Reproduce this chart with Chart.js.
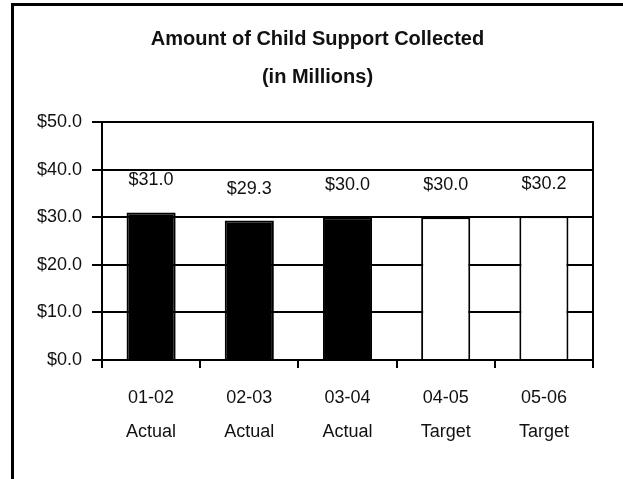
<!DOCTYPE html>
<html>
<head>
<meta charset="utf-8">
<title>Amount of Child Support Collected</title>
<script src="https://cdn.jsdelivr.net/npm/chart.js@4/dist/chart.umd.min.js"></script>
<style>
  html, body { margin: 0; padding: 0; background: #fff; }
  #wrap { width: 623px; height: 479px; }
</style>
</head>
<body>
<div id="wrap"><canvas id="c" width="623" height="479"></canvas></div>
<script>
// Fiscal years and whether the figure is an actual or a target
const periods = ['01-02', '02-03', '03-04', '04-05', '05-06'];
const kinds = ['Actual', 'Actual', 'Actual', 'Target', 'Target'];
// Collections in millions of dollars
const collected = [31.0, 29.3, 30.0, 30.0, 30.2];
const yTicks = [0, 10, 20, 30, 40, 50];

const FONT = "'Liberation Sans', Arial, sans-serif";
const money = v => '$' + Number(v).toFixed(1);

// Actual years are solid, targets are hollow
const fills = kinds.map(k => (k === 'Actual' ? '#000000' : '#ffffff'));

const frame = {
  id: 'frame',
  beforeDraw(chart) {
    const { ctx, width, height } = chart;
    ctx.save();
    ctx.fillStyle = '#ffffff';
    ctx.fillRect(0, 0, width, height);
    ctx.strokeStyle = '#000';
    ctx.lineWidth = 3;
    ctx.beginPath();
    ctx.moveTo(width, 4.5);
    ctx.lineTo(12.5, 4.5);
    ctx.lineTo(12.5, height);
    ctx.stroke();
    ctx.restore();
  },
  beforeDatasetsDraw(chart) {
    // right edge of the plot box
    const { ctx, chartArea } = chart;
    ctx.save();
    ctx.strokeStyle = '#000';
    ctx.lineWidth = 2;
    ctx.beginPath();
    ctx.moveTo(chartArea.right, chartArea.top - 1);
    ctx.lineTo(chartArea.right, chartArea.bottom);
    ctx.stroke();
    ctx.restore();
  }
};

const valueLabels = {
  id: 'valueLabels',
  afterDatasetsDraw(chart) {
    const { ctx } = chart;
    const meta = chart.getDatasetMeta(0);
    ctx.save();
    ctx.fillStyle = '#111';
    ctx.font = '18px ' + FONT;
    ctx.textAlign = 'center';
    ctx.textBaseline = 'middle';
    meta.data.forEach((bar, i) => {
      ctx.fillText(money(chart.data.datasets[0].data[i]), bar.x, bar.y - 32);
    });
    ctx.restore();
  }
};

new Chart(document.getElementById('c'), {
  type: 'bar',
  data: {
    labels: periods.map((p, i) => [p, kinds[i]]),
    datasets: [{
      data: collected,
      backgroundColor: fills,
      borderColor: '#000',
      borderWidth: 2,
      categoryPercentage: 1.0,
      barPercentage: 0.5
    }]
  },
  options: {
    responsive: false,
    animation: false,
    layout: { padding: { left: 16, right: 4, top: 0, bottom: 30 } },
    plugins: {
      legend: { display: false },
      tooltip: { enabled: false },
      title: {
        display: true,
        text: ['Amount of Child Support Collected', '(in Millions)'],
        color: '#111',
        font: { family: FONT, size: 20, weight: 'bold', lineHeight: 1.9 },
        padding: { top: 20, bottom: 26 }
      }
    },
    scales: {
      x: {
        offset: true,
        border: { display: true, color: '#000', width: 2 },
        grid: {
          offset: true,
          drawOnChartArea: false,
          drawTicks: true,
          tickLength: 8,
          color: '#000',
          lineWidth: 2
        },
        ticks: {
          color: '#111',
          padding: 13,
          maxRotation: 0,
          font: { family: FONT, size: 18, lineHeight: 34 / 18 }
        },
        afterFit(scale) { scale.height = 89; }
      },
      y: {
        min: 0,
        max: 50,
        border: { display: true, color: '#000', width: 2 },
        grid: {
          color: '#000',
          lineWidth: 2,
          drawTicks: true,
          tickLength: 10
        },
        afterBuildTicks(scale) {
          scale.ticks = yTicks.map(v => ({ value: v }));
        },
        ticks: {
          color: '#111',
          padding: 10,
          font: { family: FONT, size: 18 },
          callback: v => money(v)
        },
        afterFit(scale) { scale.width = 86; }
      },
      // empty margin on the right of the plot box
      gutter: {
        type: 'linear',
        position: 'right',
        display: true,
        border: { display: false },
        grid: { display: false, drawTicks: false },
        ticks: { display: false },
        afterFit(scale) { scale.width = 26; }
      }
    }
  },
  plugins: [frame, valueLabels]
});
</script>
</body>
</html>
